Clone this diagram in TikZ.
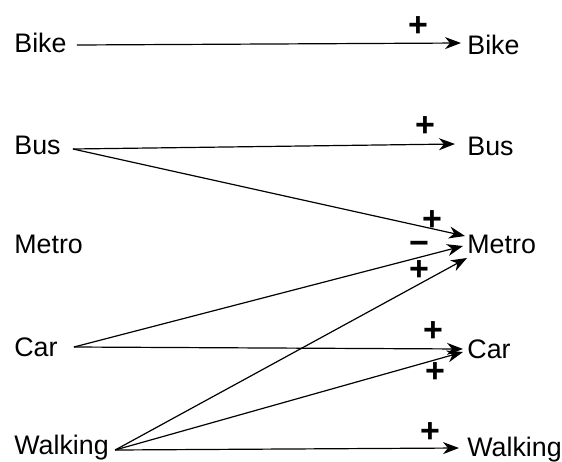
\documentclass[tikz,border=0pt]{standalone}
\usepackage{fontspec}
\setmainfont{Liberation Sans}
\usetikzlibrary{arrows.meta}
\begin{document}
\begin{tikzpicture}[x=0.5pt,y=-0.5pt,
  mode/.style={font=\fontsize{13.4}{15}\selectfont, inner sep=0pt, anchor=west},
  link/.style={-{Stealth[length=8pt,width=6pt,inset=2.5pt]}, line width=0.6pt},
  sign/.style={font=\fontsize{17}{17}\selectfont\bfseries, inner sep=0pt, outer sep=0pt, text height=4pt, text depth=0pt}]
\useasboundingbox (0,0) rectangle (562,461);
% modes at the start
\node[mode] (b1) at (14,43) {Bike};
\node[mode] (u1) at (14,145) {Bus};
\node[mode] (m1) at (14,244) {Metro};
\node[mode] (c1) at (14,347) {Car};
\node[mode] (w1) at (14,448) {Walking};
% modes at the end
\node[mode] (b2) at (467,45) {Bike};
\node[mode] (u2) at (467,146) {Bus};
\node[mode] (m2) at (467,244) {Metro};
\node[mode] (c2) at (467,349) {Car};
\node[mode] (w2) at (467,450) {Walking};
% transitions between modes
\draw[link] ([xshift=5pt,yshift=-1pt]b1.east) -- ([xshift=-3pt,yshift=1pt]b2.west);
\draw[link] ([xshift=6pt,yshift=-2pt]u1.east) -- ([xshift=-6pt,yshift=1pt]u2.west);
\draw[link] ([xshift=6pt,yshift=-2pt]u1.east) -- ([xshift=-1pt,yshift=4pt]m2.west);
\draw[link] ([xshift=8pt,yshift=0pt]c1.east) -- ([xshift=-2pt,yshift=-1pt]m2.west);
\draw[link] ([xshift=3pt,yshift=-1pt]w1.east) -- ([xshift=0pt,yshift=-7pt]m2.west);
\draw[link] ([xshift=8pt,yshift=0pt]c1.east) -- ([xshift=-2pt,yshift=0pt]c2.west);
\draw[link] ([xshift=3pt,yshift=-1pt]w1.east) -- ([xshift=-2pt,yshift=-1.5pt]c2.west);
\draw[link] ([xshift=3pt,yshift=-1pt]w1.east) -- ([xshift=-4pt,yshift=1pt]w2.west);
% polarity signs
\node[sign] (s1) at (418,32) {+};
\node[sign] (s2) at (425,132) {+};
\node[sign] (s3) at (432,226) {+};
\node[sign] (s4) at (419,250) {−};
\node[sign] (s5) at (419,276) {+};
\node[sign] (s6) at (433,337) {+};
\node[sign] (s7) at (435,378) {+};
\node[sign] (s8) at (430,438) {+};
\end{tikzpicture}
\end{document}
